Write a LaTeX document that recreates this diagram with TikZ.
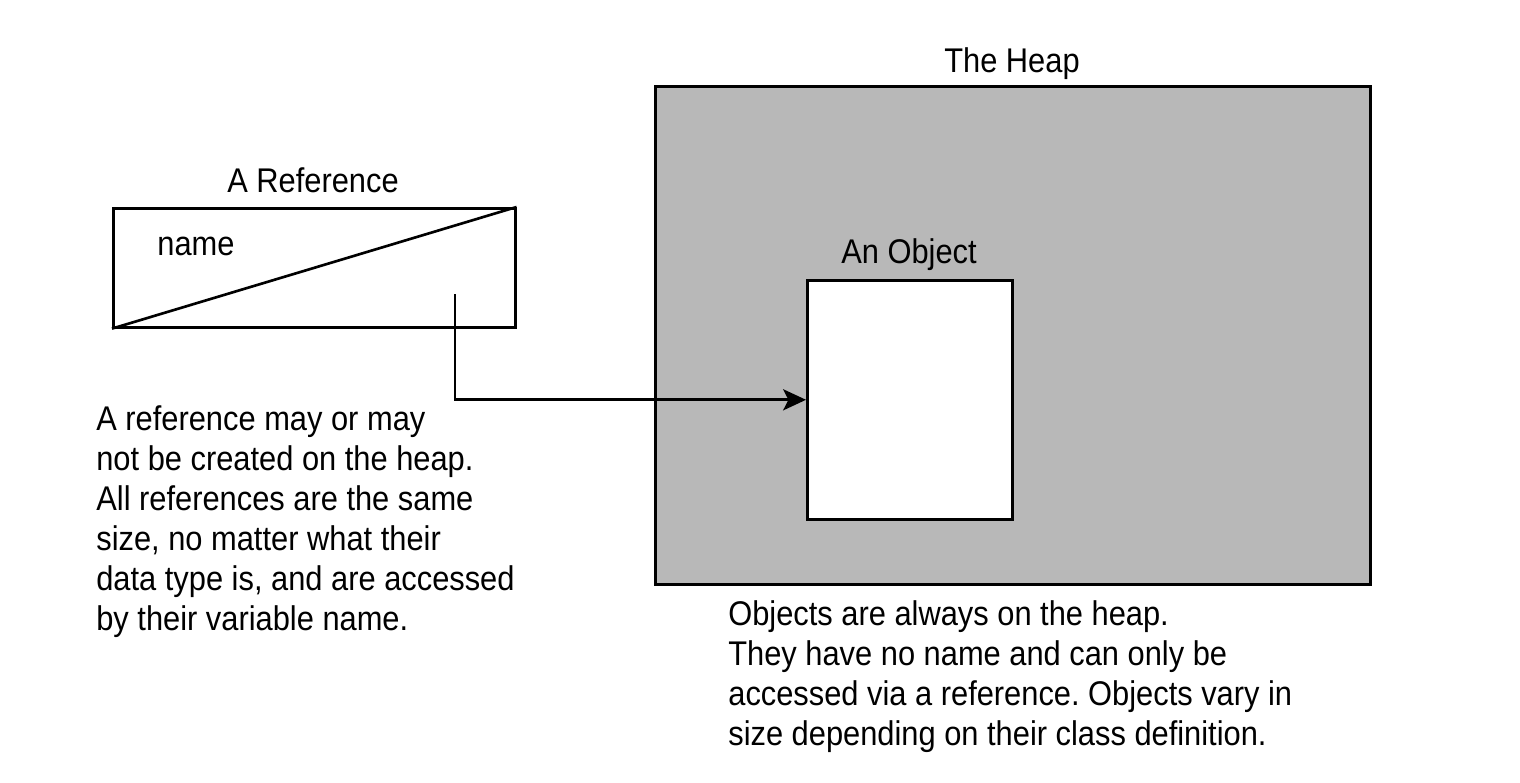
\documentclass[tikz,border=0pt]{standalone}
\usepackage{fontspec}
\setmainfont{Liberation Sans}[FakeStretch=0.9]
\frenchspacing
\usetikzlibrary{arrows.meta}
\tikzset{
  box/.style={draw, line width=1.5pt, inner sep=0pt, anchor=north west},
  lbl/.style={inner sep=0pt, anchor=base, font=\fontsize{19.5pt}{22.7pt}\selectfont},
  note/.style={inner sep=0pt, anchor=base west, align=left, font=\fontsize{19.5pt}{22.7pt}\selectfont},
  ptr/.style={line width=1.5pt, -{Stealth[length=13pt, width=12pt, inset=3pt]}}
}
\begin{document}
\begin{tikzpicture}[x=0.02cm, y=-0.02cm]
  \useasboundingbox (0,0) rectangle (1520,782);
  \node at (112, 207) (ref) [box, minimum width=8.04cm, minimum height=2.38cm] {};
  \draw[line width=1.5pt] (ref.south west) -- (ref.north east);
  \node at (313, 192) (reflbl) [lbl] {A Reference};
  \node at (196, 255) (name) [lbl] {name};
  \node at (654, 85) (heap) [box, fill={rgb,255:red,184;green,184;blue,184}, minimum width=14.3cm, minimum height=9.96cm] {};
  \node at (1012, 72) (heaplbl) [lbl] {The Heap};
  \node at (806, 279) (obj) [box, fill=white, minimum width=4.1cm, minimum height=4.78cm] {};
  \node at (909, 263) (objlbl) [lbl] {An Object};
  \coordinate (src) at (455, 294);
  \draw[ptr] (src) |- (obj.west);
  \node at (96, 630) (refnote) [note] {A reference may or may\\not be created on the heap.\\All references are the same\\size, no matter what their\\data type is, and are accessed\\by their variable name.};
  \node at (728, 745) (objnote) [note] {Objects are always on the heap.\\They have no name and can only be\\accessed via a reference. Objects vary in\\size depending on their class definition.};
\end{tikzpicture}
\end{document}
